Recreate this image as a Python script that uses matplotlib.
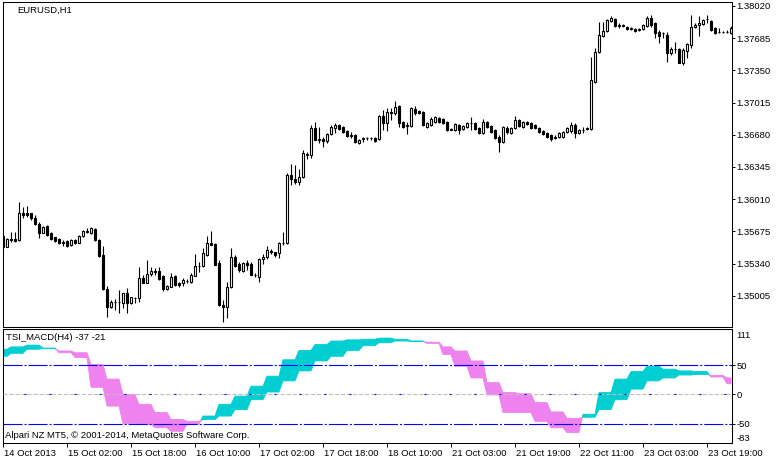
import numpy as np
import pandas as pd
import matplotlib
matplotlib.use('Agg')
import matplotlib.pyplot as plt
import matplotlib.transforms as mtransforms

plt.rcParams['font.family'] = ['Liberation Sans', 'DejaVu Sans']
plt.rcParams['font.size'] = 6.8
plt.rcParams['lines.scale_dashes'] = False

#--------------------------------------------------------------------
# data: EURUSD H1 bars (14 Oct 10:00 .. 18 Oct 23:00, 21 Oct 01:00 .. 24 Oct 01:00)
#--------------------------------------------------------------------
bar_times = pd.date_range('2013-10-14 10:00', '2013-10-18 23:00', freq='h').append(
    pd.date_range('2013-10-21 01:00', '2013-10-24 01:00', freq='h'))

opens = [
    1.35628, 1.35517, 1.35593, 1.35600, 1.35586, 1.35870, 1.35863, 1.35870, 1.35811, 1.35752,
    1.35662, 1.35731, 1.35662, 1.35614, 1.35600, 1.35562, 1.35576, 1.35530, 1.35586, 1.35551,
    1.35628, 1.35676, 1.35655, 1.35697, 1.35586, 1.35430, 1.35073, 1.34893, 1.34945, 1.34945,
    1.34934, 1.35038, 1.34927, 1.34985, 1.34980, 1.35187, 1.35142, 1.35229, 1.35263, 1.35267,
    1.35211, 1.35073, 1.35101, 1.35211, 1.35142, 1.35135, 1.35163, 1.35153, 1.35211, 1.35316,
    1.35316, 1.35430, 1.35558, 1.35544, 1.35350, 1.34910, 1.34886, 1.35094, 1.35413, 1.35333,
    1.35267, 1.35343, 1.35333, 1.35222, 1.35205, 1.35385, 1.35413, 1.35470, 1.35458, 1.35447,
    1.35551, 1.35551, 1.36262, 1.36220, 1.36193, 1.36238, 1.36470, 1.36470, 1.36751, 1.36630,
    1.36636, 1.36616, 1.36688, 1.36751, 1.36782, 1.36761, 1.36720, 1.36668, 1.36678, 1.36595,
    1.36640, 1.36647, 1.36647, 1.36647, 1.36636, 1.36876, 1.36803, 1.36917, 1.36907, 1.36980,
    1.36813, 1.36772, 1.36772, 1.36948, 1.36928, 1.36917, 1.36761, 1.36782, 1.36813, 1.36855,
    1.36844, 1.36813, 1.36735, 1.36730, 1.36782, 1.36740, 1.36761, 1.36803, 1.36803, 1.36751,
    1.36699, 1.36813, 1.36772, 1.36730, 1.36657, 1.36605, 1.36751, 1.36699, 1.36751, 1.36834,
    1.36761, 1.36813, 1.36803, 1.36782, 1.36751, 1.36720, 1.36699, 1.36678, 1.36650, 1.36657,
    1.36657, 1.36709, 1.36720, 1.36782, 1.36699, 1.36730, 1.36740, 1.36740, 1.37229, 1.37541,
    1.37708, 1.37760, 1.37864, 1.37884, 1.37812, 1.37822, 1.37801, 1.37785, 1.37780, 1.37775,
    1.37780, 1.37812, 1.37895, 1.37843, 1.37749, 1.37735, 1.37718, 1.37531, 1.37572, 1.37572,
    1.37427, 1.37552, 1.37614, 1.37801, 1.37822, 1.37832, 1.37880, 1.37864, 1.37791, 1.37749,
    1.37745, 1.37749, 1.37739]

highs = [
    1.35638, 1.35603, 1.35673, 1.35673, 1.35985, 1.35933, 1.35940, 1.35870, 1.35846, 1.35777,
    1.35731, 1.35742, 1.35673, 1.35620, 1.35603, 1.35586, 1.35586, 1.35593, 1.35593, 1.35638,
    1.35690, 1.35707, 1.35725, 1.35707, 1.35593, 1.35523, 1.35108, 1.34962, 1.34969, 1.35066,
    1.35038, 1.35083, 1.34997, 1.34990, 1.35309, 1.35222, 1.35378, 1.35309, 1.35291, 1.35302,
    1.35222, 1.35118, 1.35239, 1.35222, 1.35153, 1.35187, 1.35177, 1.35239, 1.35437, 1.35361,
    1.35499, 1.35628, 1.35680, 1.35551, 1.35378, 1.34962, 1.35153, 1.35499, 1.35430, 1.35361,
    1.35361, 1.35378, 1.35361, 1.35246, 1.35395, 1.35440, 1.35523, 1.35496, 1.35458, 1.35569,
    1.35673, 1.36279, 1.36376, 1.36366, 1.36321, 1.36522, 1.36501, 1.36782, 1.36813, 1.36761,
    1.36657, 1.36699, 1.36782, 1.36803, 1.36792, 1.36772, 1.36730, 1.36709, 1.36688, 1.36636,
    1.36657, 1.36657, 1.36657, 1.36657, 1.36886, 1.36938, 1.36959, 1.36959, 1.37032, 1.36990,
    1.36824, 1.36813, 1.36969, 1.36980, 1.36938, 1.36928, 1.36813, 1.36865, 1.36876, 1.36865,
    1.36855, 1.36824, 1.36751, 1.36803, 1.36792, 1.36782, 1.36813, 1.36865, 1.36813, 1.36761,
    1.36844, 1.36824, 1.36782, 1.36740, 1.36678, 1.36772, 1.36772, 1.36761, 1.36876, 1.36844,
    1.36824, 1.36824, 1.36813, 1.36792, 1.36761, 1.36730, 1.36709, 1.36688, 1.36678, 1.36709,
    1.36720, 1.36761, 1.36813, 1.36803, 1.36740, 1.36761, 1.36761, 1.37489, 1.37583, 1.37853,
    1.37853, 1.37884, 1.37916, 1.37895, 1.37843, 1.37832, 1.37812, 1.37801, 1.37791, 1.37791,
    1.37832, 1.37916, 1.37926, 1.37853, 1.37770, 1.37749, 1.37749, 1.37593, 1.37645, 1.37580,
    1.37583, 1.37635, 1.37926, 1.37843, 1.37916, 1.37884, 1.37926, 1.37874, 1.37801, 1.37791,
    1.37760, 1.37770, 1.37812]

lows = [
    1.35510, 1.35510, 1.35569, 1.35569, 1.35579, 1.35811, 1.35829, 1.35794, 1.35742, 1.35603,
    1.35655, 1.35628, 1.35586, 1.35569, 1.35544, 1.35523, 1.35510, 1.35523, 1.35544, 1.35551,
    1.35621, 1.35655, 1.35648, 1.35579, 1.35413, 1.35066, 1.34789, 1.34875, 1.34858, 1.34830,
    1.34875, 1.34823, 1.34920, 1.34934, 1.34945, 1.35135, 1.35135, 1.35211, 1.35222, 1.35170,
    1.35059, 1.35066, 1.35094, 1.35108, 1.35101, 1.35108, 1.35142, 1.35142, 1.35211, 1.35257,
    1.35309, 1.35420, 1.35534, 1.35326, 1.34903, 1.34737, 1.34771, 1.35083, 1.35309, 1.35257,
    1.35257, 1.35274, 1.35222, 1.35198, 1.35153, 1.35336, 1.35392, 1.35440, 1.35413, 1.35402,
    1.35534, 1.35541, 1.36158, 1.36168, 1.36158, 1.36231, 1.36428, 1.36439, 1.36626, 1.36595,
    1.36553, 1.36595, 1.36678, 1.36699, 1.36730, 1.36699, 1.36657, 1.36647, 1.36595, 1.36585,
    1.36605, 1.36626, 1.36626, 1.36605, 1.36626, 1.36730, 1.36720, 1.36834, 1.36886, 1.36761,
    1.36751, 1.36688, 1.36761, 1.36886, 1.36896, 1.36772, 1.36751, 1.36772, 1.36803, 1.36803,
    1.36792, 1.36720, 1.36730, 1.36720, 1.36688, 1.36730, 1.36751, 1.36730, 1.36730, 1.36688,
    1.36688, 1.36751, 1.36699, 1.36636, 1.36501, 1.36595, 1.36688, 1.36688, 1.36740, 1.36761,
    1.36751, 1.36782, 1.36740, 1.36740, 1.36699, 1.36678, 1.36647, 1.36616, 1.36636, 1.36647,
    1.36647, 1.36699, 1.36699, 1.36647, 1.36688, 1.36699, 1.36730, 1.36730, 1.37219, 1.37531,
    1.37697, 1.37749, 1.37853, 1.37801, 1.37791, 1.37801, 1.37770, 1.37770, 1.37749, 1.37760,
    1.37770, 1.37801, 1.37801, 1.37687, 1.37635, 1.37687, 1.37437, 1.37510, 1.37531, 1.37427,
    1.37406, 1.37479, 1.37583, 1.37791, 1.37708, 1.37822, 1.37843, 1.37760, 1.37728, 1.37739,
    1.37739, 1.37739, 1.37728]

closes = [
    1.35517, 1.35593, 1.35590, 1.35579, 1.35863, 1.35846, 1.35846, 1.35811, 1.35752, 1.35662,
    1.35725, 1.35638, 1.35600, 1.35576, 1.35551, 1.35558, 1.35523, 1.35586, 1.35551, 1.35628,
    1.35676, 1.35673, 1.35707, 1.35586, 1.35423, 1.35073, 1.34893, 1.34945, 1.34945, 1.34940,
    1.35031, 1.34934, 1.34990, 1.34980, 1.35187, 1.35142, 1.35232, 1.35263, 1.35257, 1.35177,
    1.35073, 1.35108, 1.35205, 1.35118, 1.35118, 1.35170, 1.35163, 1.35222, 1.35316, 1.35312,
    1.35447, 1.35558, 1.35534, 1.35326, 1.34910, 1.34886, 1.35101, 1.35413, 1.35316, 1.35274,
    1.35343, 1.35326, 1.35222, 1.35220, 1.35385, 1.35413, 1.35482, 1.35465, 1.35433, 1.35551,
    1.35555, 1.36262, 1.36217, 1.36193, 1.36238, 1.36491, 1.36480, 1.36751, 1.36626, 1.36636,
    1.36616, 1.36688, 1.36761, 1.36782, 1.36740, 1.36709, 1.36668, 1.36678, 1.36605, 1.36626,
    1.36647, 1.36647, 1.36650, 1.36616, 1.36876, 1.36803, 1.36917, 1.36907, 1.36969, 1.36803,
    1.36761, 1.36782, 1.36959, 1.36907, 1.36907, 1.36782, 1.36803, 1.36844, 1.36865, 1.36813,
    1.36803, 1.36730, 1.36740, 1.36792, 1.36730, 1.36772, 1.36803, 1.36800, 1.36740, 1.36699,
    1.36813, 1.36761, 1.36709, 1.36647, 1.36605, 1.36761, 1.36709, 1.36751, 1.36834, 1.36772,
    1.36813, 1.36792, 1.36751, 1.36751, 1.36709, 1.36688, 1.36657, 1.36636, 1.36657, 1.36699,
    1.36709, 1.36751, 1.36782, 1.36699, 1.36730, 1.36735, 1.36751, 1.37250, 1.37541, 1.37718,
    1.37760, 1.37874, 1.37895, 1.37812, 1.37822, 1.37812, 1.37780, 1.37791, 1.37760, 1.37780,
    1.37822, 1.37895, 1.37822, 1.37739, 1.37708, 1.37739, 1.37531, 1.37572, 1.37575, 1.37427,
    1.37562, 1.37624, 1.37801, 1.37822, 1.37843, 1.37874, 1.37884, 1.37770, 1.37739, 1.37745,
    1.37749, 1.37745, 1.37791]

# TSI_MACD values on H4 (one per H4 bar, 14 Oct 08:00 .. 24 Oct 00:00)
tsi_main = [77, 81, 84, 79, 71, 63, 12, -20, -50, -51,
            -57, -63, -51, -37, -17, -3, 14, 31, 59, 75,
            85, 91, 93, 94, 96, 94, 91, 87, 68, 48,
            28, -1, -31, -31, -46, -57, -65, -34, 3, 26,
            39, 48, 43, 40, 39, 29.6, 18]
tsi_signal = [65, 70, 77, 78, 74, 71, 51, 26, 0, -17,
              -31, -43, -46, -43, -37, -26, -9, 4, 23, 40,
              57, 65, 75, 83, 88, 91, 90.5, 89, 81, 74,
              57, 20, 3, 1, -14, -30, -41, -39, -26, -9,
              9, 23, 28, 33, 34, 32.4, 28]

price_ticks = [1.38020, 1.37685, 1.37350, 1.37015, 1.36680, 1.36345, 1.36010, 1.35675, 1.35340, 1.35005]
tsi_levels = [50, 0, -50]
time_labels = ['14 Oct 2013', '15 Oct 02:00', '15 Oct 18:00', '16 Oct 10:00', '17 Oct 02:00', '17 Oct 18:00',
               '18 Oct 10:00', '21 Oct 03:00', '21 Oct 19:00', '22 Oct 11:00', '23 Oct 03:00', '23 Oct 19:00']

#--------------------------------------------------------------------
# prepare
#--------------------------------------------------------------------
o = np.array(opens)
h = np.array(highs)
l = np.array(lows)
c = np.array(closes)
x = np.arange(len(c))

# map each H1 bar onto its H4 bar
h4_index = pd.factorize(bar_times.floor('4h'))[0]
fast = np.array(tsi_main, dtype=float)[h4_index]
slow = np.array(tsi_signal, dtype=float)[h4_index]

W, H = 783, 463
def box(left, top, right, bottom):
    return [left / W, 1 - bottom / H, (right - left) / W, (bottom - top) / H]

fig = plt.figure(figsize=(W / 100, H / 100), dpi=100)
ax = fig.add_axes(box(2.7, 2.3, 731.7, 326.7))
axi = fig.add_axes(box(2.7, 329.3, 731.7, 443.0))

#--------------------------------------------------------------------
# price panel
#--------------------------------------------------------------------
up = c >= o
ax.vlines(x, l, h, color='black', lw=0.8, zorder=1)
ax.bar(x, np.abs(c - o), bottom=np.minimum(o, c), width=0.55,
       color=np.where(up, 'white', 'black'), edgecolor='black', linewidth=0.8, zorder=2)

ax.set_xlim(-0.075, 182.175)
ax.set_ylim(1.34684, 1.38058)
ax.set_xticks([])
ax.yaxis.tick_right()
ax.set_yticks(price_ticks)
ax.set_yticklabels(['%.5f' % p for p in price_ticks])
ax.tick_params(axis='y', direction='out', length=2.2, width=0.7, pad=1.4, colors='black')

#--------------------------------------------------------------------
# indicator panel
#--------------------------------------------------------------------
axi.fill_between(x, fast, slow, where=fast >= slow, interpolate=True,
                 facecolor='#00CED1', edgecolor='#00CED1', lw=0.6, zorder=1)
axi.fill_between(x, fast, slow, where=fast < slow, interpolate=True,
                 facecolor='#EE82EE', edgecolor='#EE82EE', lw=0.6, zorder=1)

for lv in (50, -50):
    axi.axhline(lv, color='#0000FF', lw=0.8, linestyle=(0, (13.7, 1.44, 1.44, 1.44)), zorder=3)
axi.axhline(0, color='#BEBEBE', lw=0.8, linestyle=(0, (2.9, 1.44)), zorder=3)
axi.axhline(0, color='#0000FF', lw=0.8, linestyle=(2.9, (1.44, 16.56)), zorder=4)

axi.set_xlim(-0.075, 182.175)
axi.set_ylim(-83, 111)
axi.yaxis.tick_right()
axi.set_yticks(tsi_levels)
axi.set_yticklabels([str(v) for v in tsi_levels])
axi.tick_params(axis='y', direction='out', length=2.2, width=0.7, pad=1.4)

tick_pos = x[::16][:len(time_labels)]
axi.set_xticks(tick_pos)
axi.set_xticklabels(time_labels, ha='left')
axi.tick_params(axis='x', direction='out', length=3, width=0.7, pad=1.5)
shift = mtransforms.ScaledTranslation(1.5 / 100, 0, fig.dpi_scale_trans)
for lab in axi.get_xticklabels():
    lab.set_transform(lab.get_transform() + shift)

for a in (ax, axi):
    for sp in a.spines.values():
        sp.set_color('black')
        sp.set_linewidth(0.75)

#--------------------------------------------------------------------
# labels
#--------------------------------------------------------------------
fig.text(17 / W, 1 - 10 / H, 'EURUSD,H1', ha='left', va='center')
fig.text(6 / W, 1 - 338 / H, 'TSI_MACD(H4) -37 -21', ha='left', va='center')
fig.text(4.7 / W, 1 - 435 / H, 'Alpari NZ MT5, \u00a9 2001-2014, MetaQuotes Software Corp.',
         ha='left', va='center')
fig.text(736.7 / W, 1 - 335 / H, '111', ha='left', va='center')
fig.text(736.7 / W, 1 - 438.5 / H, '-83', ha='left', va='center')

fig.savefig('out.png', dpi=100)
